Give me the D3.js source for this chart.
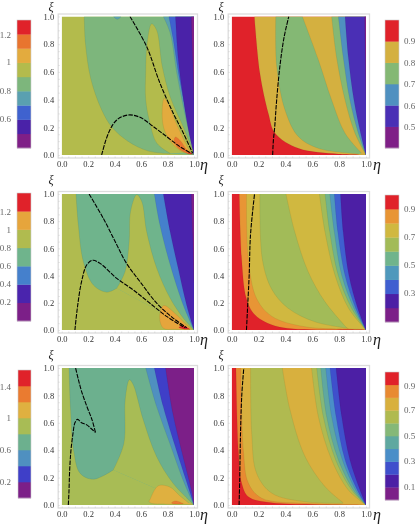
<!DOCTYPE html>
<html><head><meta charset="utf-8">
<script src="https://cdnjs.cloudflare.com/ajax/libs/d3/7.8.5/d3.min.js"></script>
<style>html,body{margin:0;padding:0;background:#fff;overflow:hidden}svg{display:block;filter:blur(.35px)}text{font-family:"Liberation Serif",serif}</style>
</head><body><svg id="c" width="415" height="524"></svg>
<script>
// colour levels, low to high
const paletteA=['#7f1f87','#4a22a8','#3f62cf','#5aa0b0','#7db67c','#b3bb4c','#e3ab3e','#e8752f','#e0222a'];
const paletteB=['#7f1f87','#4a2fb5','#4f90c0','#84b874','#d4b040','#e0222a'];
const paletteC=['#7c1f88','#4a24ad','#4580cc','#6fb48c','#b0bb4f','#e6a53c','#e0222a'];
const paletteD=['#7c1f88','#4c1fa5','#3f5fd0','#4f98bc','#70b48c','#a2bb58','#d0b840','#e89535','#e0222a'];
const paletteE=['#7c1f88','#3f3fc8','#4f90c0','#6cb08e','#a8bc55','#dfb040','#ea7b30','#e0222a'];
const paletteF=['#7c1f88','#4c1fa5','#3f50cc','#4a8ec8','#5fa8a0','#85b878','#b0ba50','#d8b03e','#e88a32','#e0222a'];
// colour-bar tick labels
const ticksA=['1.2','1','0.8','0.6'];
const ticksB=['0.9','0.8','0.7','0.6','0.5'];
const ticksC=['1.2','1','0.8','0.6','0.4','0.2'];
const ticksD=['0.9','0.7','0.5','0.3'];
const ticksE=['1.4','1','0.6','0.2'];
const ticksF=['0.9','0.7','0.5','0.3','0.1'];
const edge=[[1,0],[1,1]];
const frame=[[[0,0],[0,1]],[[1,1],[1,0]]];
// contour regions: [level, boundary curves (eta, xi)...], painted in order
const regionsA=[
 [5,...frame],
 [4,[[.17,1],[.18,.8],[.22,.55],[.3,.33],[.38,.2],[.5,.1],[.65,.03],[.82,.008]],[[.82,.008],[1,0]],edge],
 [3,[[.39,1],[.42,.98],[.45,1]]],
 [5,[[.82,.012],[.72,.084],[.667,.23],[.635,.4],[.635,.6],[.645,.8],[.68,.947],[.718,.9],[.76,.64],[.82,.42],[.92,.2],[.995,.02]]],
 [6,[[.97,.005],[.9,.03],[.82,.1],[.77,.2],[.76,.33],[.775,.41],[.81,.36],[.87,.22],[.95,.06],[.98,.01]]],
 [7,[[.98,.005],[.94,.015],[.88,.05],[.85,.1],[.86,.13],[.9,.1],[.95,.03],[.99,.005]]],
 [8,[[.95,.012],[.97,.02],[.99,.005]]],
 [3,[[.768,1],[.82,.88],[.87,.59],[.93,.3],[1,.02]],edge],
 [2,[[.81,1],[.84,.85],[.89,.55],[.945,.28],[1,.01]],edge],
 [1,[[.86,1],[.88,.7],[.92,.4],[.96,.17],[1,0]],edge],
 [0,[[.98,1],[.99,.7],[1,.4]],edge]
];
const regionsB=[
 [5,...frame],
 [4,[[.169,1],[.21,.59],[.273,.3],[.323,.157],[.496,.048],[.794,.007],[1,0]],edge],
 [3,[[.328,1],[.335,.64],[.397,.325],[.496,.133],[.645,.048],[.943,.007]],[[.968,.012],[.844,.157],[.744,.397],[.645,.687],[.526,1]]],
 [3,[[.744,1],[.78,.71],[.844,.397],[.918,.157],[1,0]],edge],
 [2,[[.794,1],[.83,.71],[.88,.397],[.943,.157],[1,0]],edge],
 [1,[[.844,1],[.868,.71],[.91,.397],[.96,.157],[1,0]],edge],
 [0,[[.99,1],[.995,.7],[1,.4]],edge]
];
const regionsC=[
 [4,...frame],
 [3,[[.108,1],[.126,.77],[.164,.5],[.24,.33],[.34,.278],[.416,.307]],[[.416,.307],[1,0]],edge],
 [4,[[.416,.307],[.479,.43],[.51,.65],[.52,.87],[.567,.995],[.605,.945],[.642,.725],[.718,.455],[.82,.233],[.92,.086],[1,0]]],
 [2,[[.7,1],[.743,.77],[.82,.48],[.92,.18],[1,0]],edge],
 [1,[[.768,1],[.82,.72],[.88,.455],[.945,.18],[1,0]],edge],
 [0,[[.98,1],[.99,.7],[1,.35]],edge],
 [5,[[.97,.003],[.85,.005],[.77,.012],[.74,.09],[.77,.18],[.87,.11],[.93,.05],[.98,.01]]],
 [6,[[.97,.005],[.92,.008],[.885,.02],[.92,.032],[.97,.005]]]
];
const regionsD=[
 [8,...frame],
 [7,[[.057,1],[.074,.52],[.11,.23],[.174,.11],[.347,.024],[.95,.003],[1,0]],edge],
 [6,[[.11,1],[.124,.52],[.186,.23],[.3,.1],[.546,.024],[.95,.005],[1,0]],edge],
 [5,[[.21,1],[.228,.52],[.298,.3],[.42,.16],[.62,.06],[.87,.012]],[[.86,.012],[.695,.207],[.57,.427],[.47,.72],[.404,1]]],
 [5,[[.653,1],[.695,.72],[.77,.4],[.87,.16],[1,0]],edge],
 [4,[[.695,1],[.73,.72],[.794,.4],[.893,.16],[1,0]],edge],
 [3,[[.73,1],[.764,.72],[.82,.4],[.91,.16],[1,0]],edge],
 [2,[[.764,1],[.79,.72],[.844,.4],[.923,.16],[1,0]],edge],
 [1,[[.81,1],[.83,.72],[.873,.4],[.938,.16],[1,0]],edge]
];
const regionsE=[
 [4,...frame],
 [3,[[.055,1],[.067,.695],[.09,.4],[.14,.23],[.24,.188],[.39,.256]],[[.39,.256],[1,0]],edge],
 [4,[[.39,.256],[.47,.45],[.48,.77],[.512,.915],[.54,.88],[.617,.62],[.717,.354],[.842,.158],[1,0]]],
 [2,[[.635,1],[.717,.72],[.817,.45],[.917,.183],[1,0]],edge],
 [1,[[.7,1],[.767,.72],[.867,.4],[.94,.18],[1,0]],edge],
 [0,[[.785,1],[.84,.67],[.917,.354],[.98,.11],[1,0]],edge],
 [5,[[.99,.005],[.8,.006],[.68,.012],[.66,.025],[.667,.04],[.73,.14],[.82,.13],[.89,.07],[.96,.015]]],
 [6,[[.92,.008],[.85,.008],[.83,.015],[.86,.03],[.92,.01]]]
];
const regionsF=[
 [9,...frame],
 [8,[[.032,1],[.05,.4],[.074,.16],[.124,.06],[.3,.017],[.9,.002],[1,0]],edge],
 [7,[[.067,1],[.087,.4],[.124,.16],[.223,.05],[.546,.012],[1,0]],edge],
 [6,[[.141,1],[.149,.524],[.186,.23],[.3,.085],[.546,.024],[.83,.012]],[[.83,.017],[.695,.134],[.546,.354],[.434,.695],[.377,1]]],
 [6,[[.595,1],[.645,.646],[.744,.33],[.868,.11],[1,0]],edge],
 [5,[[.633,1],[.682,.646],[.774,.33],[.893,.11],[1,0]],edge],
 [4,[[.663,1],[.707,.646],[.794,.33],[.906,.11],[1,0]],edge],
 [3,[[.7,1],[.744,.646],[.824,.33],[.923,.11],[1,0]],edge],
 [2,[[.732,1],[.777,.646],[.844,.33],[.935,.11],[1,0]],edge],
 [1,[[.777,1],[.819,.646],[.88,.33],[.955,.11],[1,0]],edge]
];
// dashed curves
const dashedA=[[[.516,1],[.642,.783],[.743,.518],[.844,.3],[.92,.157],[.99,.012]],[[.302,0],[.353,.157],[.416,.253],[.504,.289],[.592,.272],[.693,.205],[.793,.133],[.894,.06],[.98,.012]]];
const dashedB=[[[.305,0],[.31,.1],[.32,.2],[.335,.4],[.36,.65],[.39,.85],[.425,1]]];
const dashedC=[[[.207,1],[.315,.82],[.416,.627],[.49,.49],[.6,.345],[.718,.197],[.844,.086],[.945,.017]],[[.1,0],[.118,.16],[.15,.356],[.19,.48],[.234,.513],[.29,.49],[.416,.38],[.54,.295],[.667,.197],[.793,.1],[.93,.017]]];
const dashedD=[[[.11,0],[.115,.1],[.12,.2],[.13,.4],[.14,.7],[.17,1]]];
const dashedE=[[[.05,0],[.055,.1],[.06,.25],[.07,.4],[.085,.52],[.1,.6],[.12,.625],[.15,.6],[.19,.585],[.22,.56],[.255,.53]],[[.255,.53],[.23,.62],[.19,.72],[.15,.83],[.125,.92],[.105,1]]];
const dashedF=[[[.055,0],[.06,.2],[.065,.5],[.075,.8],[.09,1]]];
const majorTicks=[0,.2,.4,.6,.8,1];
const minorTicks=d3.range(0,1.001,.05);

const panels=[
 {r:regionsA,d:dashedA,p:paletteA,t:ticksA,x:[61.7,194],y:[155,16.5],bar:[17,31,20,148],ty:[35,62,91,119],side:'l',xi:[51,10.8],eta:[200,170]},
 {r:regionsB,d:dashedB,p:paletteB,t:ticksB,x:[231.7,366],y:[155,16.5],bar:[385,399,20,148],ty:[41,63,84,106,127],side:'r',xi:[221,10.8],eta:[373,170]},
 {r:regionsC,d:dashedC,p:paletteC,t:ticksC,x:[61.7,194],y:[330,194],bar:[17,31,193,321],ty:[212,230,248,266,284,302],side:'l',xi:[51,184],eta:[200,345]},
 {r:regionsD,d:dashedD,p:paletteD,t:ticksD,x:[231.7,366],y:[330,194],bar:[385,399,195,322],ty:[209,237,265,293],side:'r',xi:[221,184],eta:[373,345]},
 {r:regionsE,d:dashedE,p:paletteE,t:ticksE,x:[61.7,194],y:[505,368],bar:[18,31,370,498],ty:[387,418,450,482],side:'l',xi:[51,359],eta:[200,520]},
 {r:regionsF,d:dashedF,p:paletteF,t:ticksF,x:[231.7,366],y:[505,368],bar:[385,399,372,500],ty:[386,410,436,461,487],side:'r',xi:[221,359],eta:[373,520]}
];
const svg=d3.select('#c');
panels.forEach((P,i)=>{
 const x=d3.scaleLinear().domain([0,1]).range(P.x), y=d3.scaleLinear().domain([0,1]).range(P.y);
 const line=d3.line().x(d=>x(d[0])).y(d=>y(d[1])).curve(d3.curveCatmullRom);
 const g=svg.append('g');
 g.append('rect').attr('x',P.x[0]-3.5).attr('y',P.y[1]-2.5).attr('width',P.x[1]-P.x[0]+7).attr('height',P.y[0]-P.y[1]+5.5).attr('fill','#fff').attr('stroke','#dcdcdc').attr('stroke-width',1.3);
 const id='clip'+i;
 svg.append('defs').append('clipPath').attr('id',id).append('rect').attr('x',P.x[0]).attr('y',P.y[1]).attr('width',P.x[1]-P.x[0]).attr('height',P.y[0]-P.y[1]);
 const pg=g.append('g').attr('clip-path',`url(#${id})`);
 P.r.forEach(reg=>{
  const dd=reg.slice(1).map((e,k)=>{const s=line(e);return k?'L'+s.slice(1):s;}).join('')+'Z';
  pg.append('path').attr('d',dd).attr('fill',P.p[reg[0]]);
  reg.slice(1).filter(e=>e.length>2).forEach(e=>pg.append('path').attr('d',line(e)).attr('fill','none').attr('stroke','#000').attr('stroke-opacity',.1).attr('stroke-width',.6));
 });
 P.d.forEach(c=>pg.append('path').attr('d',line(c)).attr('fill','none').attr('stroke','#000').attr('stroke-width',1.1).attr('stroke-dasharray','4.5 1.2'));
 // axes
 const ax=d3.axisBottom(x).tickValues(majorTicks).tickSize(0).tickPadding(0).tickFormat(d3.format('.1f'));
 const ay=d3.axisLeft(y).tickValues(majorTicks).tickSize(0).tickPadding(0).tickFormat(d3.format('.1f'));
 const ga=g.append('g').attr('transform',`translate(0,${P.y[0]+6})`).call(ax);
 const gb=g.append('g').attr('transform',`translate(${P.x[0]-7.5},0)`).call(ay);
 [ga,gb].forEach(s=>{s.select('.domain').remove();s.selectAll('text').attr('font-size',8.5).attr('fill','#333').attr('font-family','Liberation Serif');});
 const mx=d3.axisBottom(x).tickValues(minorTicks).tickSize(-1.5).tickFormat('');
 const my=d3.axisLeft(y).tickValues(minorTicks).tickSize(-1.5).tickFormat('');
 [g.append('g').attr('transform',`translate(0,${P.y[0]+3})`).call(mx),g.append('g').attr('transform',`translate(${P.x[0]-3.5},0)`).call(my)].forEach(s=>{s.select('.domain').remove();s.selectAll('line').attr('stroke','#ccc').attr('stroke-width',.6);});
 g.append('text').text('ξ').attr('x',P.xi[0]).attr('y',P.xi[1]).attr('text-anchor','middle').attr('font-size',12).attr('font-style','italic').attr('fill','#222');
 g.append('text').text('η').attr('x',P.eta[0]).attr('y',P.eta[1]).attr('font-size',16).attr('font-style','italic').attr('fill','#222');
 // colour bar
 const [b0,b1,bt,bb]=P.bar;
 const band=d3.scaleBand().domain(d3.range(P.p.length)).range([bb,bt]);
 g.selectAll('rect.b').data(P.p).join('rect').attr('class','b').attr('x',b0).attr('width',b1-b0).attr('y',(d,k)=>band(k)).attr('height',band.bandwidth()+.3).attr('fill',d=>d);
 g.append('rect').attr('x',b0).attr('y',bt).attr('width',b1-b0).attr('height',bb-bt).attr('fill','none').attr('stroke','#ccc').attr('stroke-width',.6);
 P.t.forEach((t,k)=>g.append('text').text(t).attr('x',P.side==='l'?11:404).attr('y',P.ty[k]+3).attr('text-anchor',P.side==='l'?'end':'start').attr('font-size',9).attr('fill','#666'));
});
</script></body></html>
